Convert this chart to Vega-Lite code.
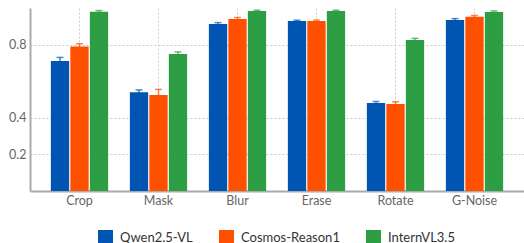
{
  "$schema": "https://vega.github.io/schema/vega-lite/v6.json",
  "width": 494,
  "height": 183,
  "autosize": {"type": "none"},
  "padding": {"left": 30, "top": 8, "right": 0, "bottom": 52},
  "config": {
    "font": "Lato",
    "view": {"stroke": null},
    "axis": {"labelFont": "Lato", "labelColor": "#666", "labelFontSize": 12.5, "ticks": false, "domainColor": "#aaa", "domainWidth": 2, "gridColor": "#ccc", "gridDash": [2, 2], "gridWidth": 1, "title": null}
  },
  "data": {
    "values": [
      {"cat": "Crop", "model": "Qwen2.5-VL", "value": 0.71, "lo": 0.69, "hi": 0.73},
      {"cat": "Crop", "model": "Cosmos-Reason1", "value": 0.79, "lo": 0.775, "hi": 0.805},
      {"cat": "Crop", "model": "InternVL3.5", "value": 0.98, "lo": 0.974, "hi": 0.986},
      {"cat": "Mask", "model": "Qwen2.5-VL", "value": 0.54, "lo": 0.528, "hi": 0.552},
      {"cat": "Mask", "model": "Cosmos-Reason1", "value": 0.525, "lo": 0.495, "hi": 0.555},
      {"cat": "Mask", "model": "InternVL3.5", "value": 0.749, "lo": 0.738, "hi": 0.76},
      {"cat": "Blur", "model": "Qwen2.5-VL", "value": 0.913, "lo": 0.906, "hi": 0.92},
      {"cat": "Blur", "model": "Cosmos-Reason1", "value": 0.94, "lo": 0.932, "hi": 0.948},
      {"cat": "Blur", "model": "InternVL3.5", "value": 0.984, "lo": 0.98, "hi": 0.988},
      {"cat": "Erase", "model": "Qwen2.5-VL", "value": 0.929, "lo": 0.925, "hi": 0.933},
      {"cat": "Erase", "model": "Cosmos-Reason1", "value": 0.929, "lo": 0.924, "hi": 0.934},
      {"cat": "Erase", "model": "InternVL3.5", "value": 0.984, "lo": 0.98, "hi": 0.988},
      {"cat": "Rotate", "model": "Qwen2.5-VL", "value": 0.481, "lo": 0.473, "hi": 0.489},
      {"cat": "Rotate", "model": "Cosmos-Reason1", "value": 0.475, "lo": 0.463, "hi": 0.487},
      {"cat": "Rotate", "model": "InternVL3.5", "value": 0.825, "lo": 0.816, "hi": 0.834},
      {"cat": "G-Noise", "model": "Qwen2.5-VL", "value": 0.934, "lo": 0.926, "hi": 0.942},
      {"cat": "G-Noise", "model": "Cosmos-Reason1", "value": 0.952, "lo": 0.945, "hi": 0.959},
      {"cat": "G-Noise", "model": "InternVL3.5", "value": 0.978, "lo": 0.972, "hi": 0.984}
    ]
  },
  "encoding": {
    "x": {
      "field": "cat", "type": "nominal", "sort": null,
      "scale": {"paddingInner": 0.275, "paddingOuter": 0.264},
      "axis": {"labelAngle": 0, "grid": true, "bandPosition": 0.5, "labelPadding": 3}
    },
    "xOffset": {
      "field": "model", "type": "nominal", "sort": ["Qwen2.5-VL", "Cosmos-Reason1", "InternVL3.5"],
      "scale": {"paddingInner": 0.06}
    },
    "color": {
      "field": "model", "type": "nominal", "sort": ["Qwen2.5-VL", "Cosmos-Reason1", "InternVL3.5"],
      "scale": {"domain": ["Qwen2.5-VL", "Cosmos-Reason1", "InternVL3.5"], "range": ["#0055B3", "#FF5000", "#2E9E45"]},
      "legend": {
        "title": null, "orient": "none", "direction": "horizontal", "legendX": 68, "legendY": 222,
        "symbolType": "square", "symbolSize": 225, "symbolStrokeWidth": 0, "symbolOpacity": 1,
        "labelFontSize": 13, "labelColor": "#333", "labelOffset": 7, "columnPadding": 26
      }
    }
  },
  "layer": [
    {
      "mark": {"type": "bar"},
      "encoding": {
        "y": {"field": "value", "type": "quantitative", "scale": {"domain": [0, 1]},
          "axis": {"values": [0.2, 0.4, 0.8], "format": ".1f", "grid": true, "labelPadding": 4}}
      }
    },
    {
      "mark": {"type": "rule", "strokeWidth": 1.5, "opacity": 0.7},
      "encoding": {
        "y": {"field": "lo", "type": "quantitative"},
        "y2": {"field": "hi"}
      }
    },
    {
      "mark": {"type": "tick", "thickness": 1.5, "size": 7, "opacity": 0.7},
      "encoding": {
        "y": {"field": "hi", "type": "quantitative"}
      }
    }
  ]
}
